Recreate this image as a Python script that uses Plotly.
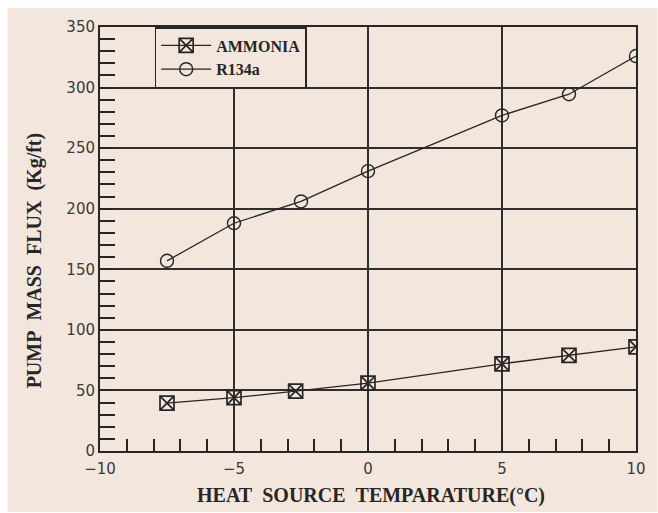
import plotly.graph_objects as go

# Data
ammonia_x = [-7.5, -5, -2.7, 0, 5, 7.5, 10]
ammonia_y = [39.5, 44, 49.5, 56, 72, 79, 86]
r134a_x = [-7.5, -5, -2.5, 0, 5, 7.5, 10]
r134a_y = [157, 188, 206, 231, 277, 294.5, 326]
series_names = ["AMMONIA", "R134a"]
x_title = "HEAT\u00a0\u00a0SOURCE\u00a0\u00a0TEMPARATURE(°C)"
y_title = "PUMP\u00a0\u00a0MASS\u00a0\u00a0FLUX\u00a0\u00a0(Kg/ft)"

BEIGE = "#f3e6dc"
INK = "#262626"
SERIF = "Liberation Serif"
SANS = "DejaVu Sans"

fig = go.Figure()
fig.add_trace(go.Scatter(
    x=ammonia_x, y=ammonia_y, name=series_names[0], mode="lines+markers",
    line=dict(color=INK, width=1.3),
    marker=dict(symbol="square-x-open", size=14, color=INK, line=dict(width=1.7, color=INK)),
))
fig.add_trace(go.Scatter(
    x=r134a_x, y=r134a_y, name=series_names[1], mode="lines+markers",
    line=dict(color=INK, width=1.3),
    marker=dict(symbol="circle-open", size=13, color=INK, line=dict(width=1.4, color=INK)),
))

axis_common = dict(
    showline=True, linecolor=INK, linewidth=2, mirror=True,
    showgrid=True, gridcolor="#2e2e2e", gridwidth=1.5,
    zeroline=False, ticks="inside", tickcolor=INK, tickwidth=1.8,
    tickfont=dict(family=SANS, size=15, color="#3a3a3a"),
)

fig.update_xaxes(
    range=[-10, 10], dtick=5, tick0=0, ticklen=12,
    minor=dict(dtick=1, ticks="inside", ticklen=12, tickcolor=INK, tickwidth=1.8, showgrid=False),
    ticklabelstandoff=3,
    **axis_common,
)
fig.update_yaxes(
    range=[0, 350], dtick=50, tick0=0, ticklen=15,
    minor=dict(dtick=10, ticks="inside", ticklen=15, tickcolor=INK, tickwidth=1.8, showgrid=False),
    **axis_common,
)

fig.add_shape(type="rect", xref="paper", yref="paper",
              x0=-0.1725, x1=1.04, y0=-0.1439, y1=1.0448,
              fillcolor=BEIGE, line=dict(width=0), layer="below")

title_font = dict(family=SERIF, size=20, color=INK, weight="bold")
fig.add_annotation(text=x_title, xref="paper", yref="paper", x=0.5065, y=-0.1038,
                   xanchor="center", yanchor="middle", showarrow=False, font=title_font)
fig.add_annotation(text=y_title, xref="paper", yref="paper", x=-0.1206, y=0.4505,
                   xanchor="center", yanchor="middle", showarrow=False, textangle=-90,
                   font=title_font)

fig.update_layout(
    width=658, height=513,
    margin=dict(l=100, r=19, t=27, b=62),
    paper_bgcolor="white", plot_bgcolor="rgba(0,0,0,0)",
    showlegend=True,
    legend=dict(
        x=0.102, y=1.0, xanchor="left", yanchor="top",
        bgcolor=BEIGE, bordercolor=INK, borderwidth=1.5,
        font=dict(family=SERIF, size=16, color=INK, weight="bold"),
        tracegroupgap=0, itemwidth=50,
    ),
)

fig.write_html("out.html")
